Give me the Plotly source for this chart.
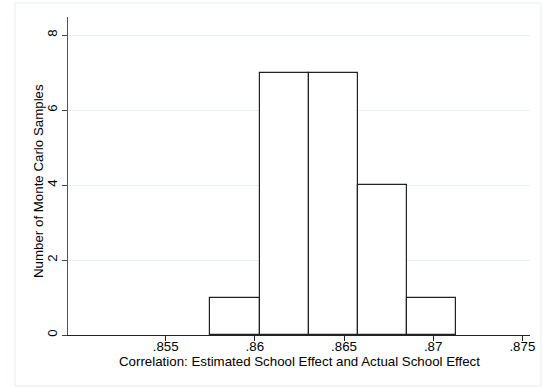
import plotly.graph_objects as go

# Histogram bins (left edges, common width) and counts
bin_edges = [0.8575, 0.86026, 0.86302, 0.86577, 0.86853, 0.87128]
counts = [1, 7, 7, 4, 1]
x_ticks = [0.855, 0.86, 0.865, 0.87, 0.875]
x_tick_labels = [".855", ".86", ".865", ".87", ".875"]
y_ticks = [0, 2, 4, 6, 8]
y_tick_labels = ["0", "2", "4", "6", "8"]
x_title = "Correlation: Estimated School Effect and Actual School Effect"
y_title = "Number of Monte Carlo Samples"

centers = [(a + b) / 2 for a, b in zip(bin_edges[:-1], bin_edges[1:])]
widths = [b - a for a, b in zip(bin_edges[:-1], bin_edges[1:])]

FONT = "Liberation Sans, Arial, Helvetica, sans-serif"
FS = 13.3

fig = go.Figure()
fig.add_trace(go.Bar(
    x=centers, y=counts, width=widths,
    marker=dict(color="white", line=dict(color="#222222", width=1.2)),
    hoverinfo="x+y",
))

fig.update_layout(
    width=542, height=387,
    margin=dict(l=68, r=12, t=17, b=52),
    paper_bgcolor="white", plot_bgcolor="white",
    showlegend=False,
    font=dict(family=FONT, size=FS, color="black"),
    bargap=0,
    xaxis=dict(
        range=[0.84952, 0.87543],
        automargin=False,
        tickmode="array", tickvals=x_ticks, ticktext=x_tick_labels,
        ticks="outside", ticklen=5, tickcolor="#222222", tickwidth=1,
        ticklabelstandoff=-6,
        showline=True, linecolor="#222222", linewidth=1,
        showgrid=False, zeroline=False,
        tickfont=dict(size=FS),
    ),
    yaxis=dict(
        range=[0, 8.48],
        automargin=False,
        tickmode="array", tickvals=y_ticks, ticktext=y_tick_labels,
        tickangle=-90,
        ticks="outside", ticklen=5, tickcolor="#444444", tickwidth=1,
        showline=True, linecolor="#555555", linewidth=1.3,
        showgrid=True, gridcolor="#e9f1f2", gridwidth=1,
        zeroline=False,
        tickfont=dict(size=FS),
    ),
    annotations=[
        dict(text=x_title, xref="paper", yref="paper",
             x=(299 - 68) / 462, y=(335 - 361) / 318,
             xanchor="center", yanchor="middle", showarrow=False,
             font=dict(size=FS)),
        dict(text=y_title, xref="paper", yref="paper",
             x=(38 - 68) / 462, y=(335 - 181) / 318, textangle=-90,
             xanchor="center", yanchor="middle", showarrow=False,
             font=dict(size=FS)),
    ],
    shapes=[dict(
        type="rect", xref="paper", yref="paper",
        x0=(15 - 68) / 462, x1=(541 - 68) / 462,
        y0=(335 - 386) / 318, y1=(335 - 3) / 318,
        line=dict(color="#e4ecee", width=1), fillcolor="rgba(0,0,0,0)",
        layer="below",
    )],
)

fig.write_html(
    "out.html",
    config={"displayModeBar": False},
    post_script="document.body.style.margin='0';document.body.style.overflow='hidden';",
)
